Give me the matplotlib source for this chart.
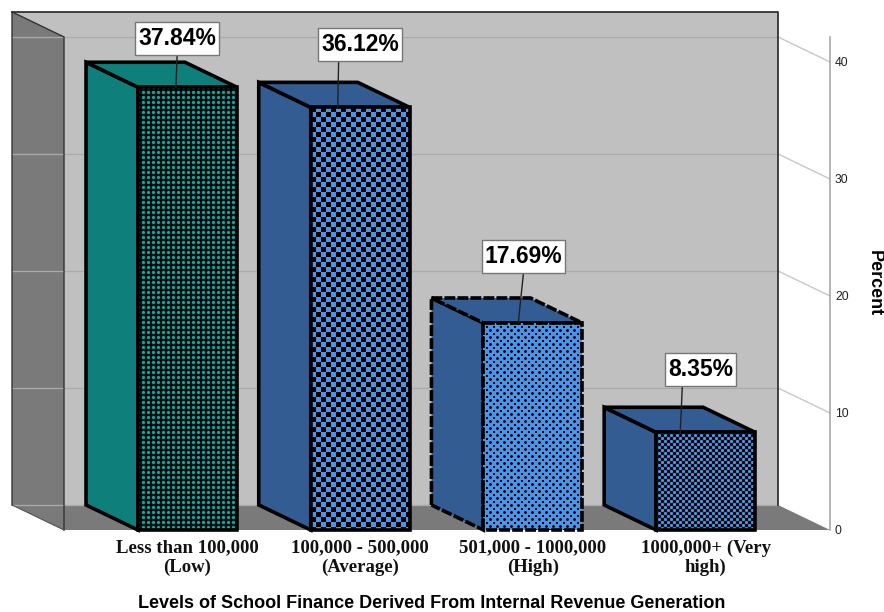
import matplotlib
matplotlib.use('Agg')
import matplotlib.pyplot as plt
import numpy as np
from matplotlib.patches import Polygon, Rectangle
from matplotlib.transforms import IdentityTransform

categories = ['Less than 100,000\n(Low)', '100,000 - 500,000\n(Average)',
              '501,000 - 1000,000\n(High)', '1000,000+ (Very\nhigh)']
percents = [37.84, 36.12, 17.69, 8.35]
value_labels = ['37.84%', '36.12%', '17.69%', '8.35%']
y_ticks = [0, 10, 20, 30, 40]
side_colors = ['#0F7F7B', '#335C92', '#335C92', '#335C92']
face_colors = ['#17A5A0', '#4C94E8', '#4C94E8', '#4C94E8']
line_styles = ['-', '-', (0, (3, 0.6)), '-']

W, H = 884, 612
DPI = 100
# depth of the 3D box, in axis units
DEPTH_X = 0.301
DEPTH_Y = 2.14
BAR_W = 0.573
AXIS_TOP = 42.14
EDGE_W = 2.6

# label box placement around each bar: centre shift in x, gap above the box, leader ends
LABEL_SHIFT = [-0.06, 0.0, -0.055, -0.03]
LABEL_GAP = [0.6, 1.8, 2.1, 1.8]
LEADER_TOP = [-0.06, -0.125, -0.055, -0.135]
LEADER_FOOT = [-0.067, -0.13, -0.085, -0.147]

fig = plt.figure(figsize=(W / DPI, H / DPI), dpi=DPI, facecolor='white')
ax = fig.add_axes([64 / W, 1 - 530 / H, (830 - 64) / W, 468 / H])
ax.set_xlim(-0.715, 3.72)
ax.set_ylim(0, 40)
ax.axis('off')


def box_pattern(kind, rows, cols):
    # how much colour shows through the black texture, 0 to 1 per pixel
    yy, xx = np.mgrid[0:rows, 0:cols].astype(float)
    if kind == 0:
        # soft grid of small squares
        dots = (0.5 + 0.5 * np.cos(2 * np.pi * xx / 5)) * (0.5 + 0.5 * np.cos(2 * np.pi * yy / 5))
        return np.clip(dots * 1.7, 0, 1)
    if kind == 1:
        return (((xx // 5) + (yy // 5)) % 2 == 1).astype(float)
    if kind == 2:
        # dark dots on a diamond lattice
        c = np.cos(2 * np.pi * xx / 7) * np.cos(2 * np.pi * yy / 7)
        return 1 - np.clip((c - 0.2) * 2.2, 0, 0.95)
    # fine soft checker
    c = np.cos(2 * np.pi * xx / 6) * np.cos(2 * np.pi * yy / 6)
    return np.clip(0.45 + 1.2 * c, 0, 1)


x0, x1 = ax.get_xlim()
left = x0 - DEPTH_X
right = x1 - DEPTH_X
back = DEPTH_Y
top = AXIS_TOP + DEPTH_Y

# walls and floor
ax.add_patch(Polygon([(left, back), (left, top), (right, top), (right, back)],
                     fc='#C0C0C0', ec='none', clip_on=False, zorder=1))
ax.add_patch(Polygon([(left, back), (left, top), (x0, AXIS_TOP), (x0, 0)],
                     fc='#7A7A7A', ec='none', clip_on=False, zorder=1.2))
ax.add_patch(Polygon([(left, back), (right, back), (x1, 0), (x0, 0)],
                     fc='#7A7A7A', ec='none', clip_on=False, zorder=1.2))
for t in y_ticks:
    ax.plot([left, right], [t + back, t + back], color='#ABABAB', lw=0.9, clip_on=False, zorder=1.5)
    if t:
        ax.plot([right, x1], [t + back, t], color='#C8C8C8', lw=1, clip_on=False, zorder=1.5)
# wall outlines
ax.plot([left, right, right], [top, top, back], color='#333333', lw=1.3, clip_on=False, zorder=2.5)
ax.plot([left, left, x0, x0], [back, top, AXIS_TOP, 0], color='#333333', lw=1, clip_on=False, zorder=2.5)
ax.plot([left, x0], [back, 0], color='#555555', lw=0.8, clip_on=False, zorder=2.5)

# value axis on the right
ax.plot([x1, x1], [0, AXIS_TOP], color='#A8A8A8', lw=1.2, clip_on=False, zorder=2)
for t in y_ticks:
    ax.annotate(str(t), (x1, t), xytext=(3.6, -0.6), textcoords='offset points', ha='left', va='center',
                fontsize=8.7, family='Liberation Sans', color='#222222', annotation_clip=False)

renderer = fig.canvas.get_renderer()
for i, (cat, val) in enumerate(zip(categories, percents)):
    xl, xr = i - BAR_W / 2, i + BAR_W / 2
    z = 3 + i
    ax.add_patch(Polygon([(xl - DEPTH_X, back), (xl - DEPTH_X, val + back), (xl, val), (xl, 0)],
                         fc=side_colors[i], ec='black', lw=EDGE_W, ls=line_styles[i], joinstyle='miter',
                         clip_on=False, zorder=z))
    ax.add_patch(Polygon([(xl - DEPTH_X, val + back), (xr - DEPTH_X, val + back), (xr, val), (xl, val)],
                         fc=side_colors[i], ec='black', lw=EDGE_W, ls=line_styles[i], joinstyle='miter',
                         clip_on=False, zorder=z))
    (px0, py0), (px1, py1) = ax.transData.transform([(xl, 0), (xr, val)])
    amount = box_pattern(i, int(round(py1 - py0)), int(round(px1 - px0)))
    rgb = np.array(matplotlib.colors.to_rgb(face_colors[i]))
    ax.imshow(amount[..., None] * rgb, extent=(xl, xr, 0, val), origin='upper', aspect='auto',
              interpolation='nearest', zorder=z + 0.1)
    ax.add_patch(Polygon([(xl, 0), (xl, val), (xr, val), (xr, 0)], fc='none', ec='black', lw=EDGE_W,
                         ls=line_styles[i], joinstyle='miter', clip_on=False, zorder=z + 0.2))

    # value label with leader line down into the top of the box
    box_bottom = val + back + LABEL_GAP[i]
    ax.plot([i + LEADER_FOOT[i], i + LEADER_TOP[i]], [val, box_bottom], color='#222222', lw=1,
            clip_on=False, zorder=z + 0.3)
    txt = ax.text(i + LABEL_SHIFT[i], box_bottom + 1.41, value_labels[i], ha='center', va='center',
                  fontsize=16.5, fontweight='bold', family='Liberation Sans', color='black',
                  clip_on=False, zorder=z + 0.5)
    ext = txt.get_window_extent(renderer)
    cy = ax.transData.transform((0, box_bottom + 1.41))[1]
    ax.add_patch(Rectangle((ext.x0 - 3, cy - 16.5), ext.width + 6, 33, transform=IdentityTransform(),
                           fc='white', ec='#777777', lw=1, clip_on=False, zorder=z + 0.4))

    ax.annotate(cat, (i, 0), xytext=(0, -7), textcoords='offset points', ha='center', va='top',
                fontsize=13.5, fontweight='bold', family='Liberation Serif', color='#111111', linespacing=1.16,
                annotation_clip=False)

fig.text(432 / W, 1 - 603 / H, 'Levels of School Finance Derived From Internal Revenue Generation',
         ha='center', va='center', fontsize=13, fontweight='bold', family='Liberation Sans', color='black')
fig.text(874.5 / W, 1 - 283 / H, 'Percent', ha='center', va='center', rotation=270, fontsize=13,
         fontweight='bold', family='Liberation Sans', color='black')

fig.savefig('out.png', dpi=DPI, facecolor='white')
